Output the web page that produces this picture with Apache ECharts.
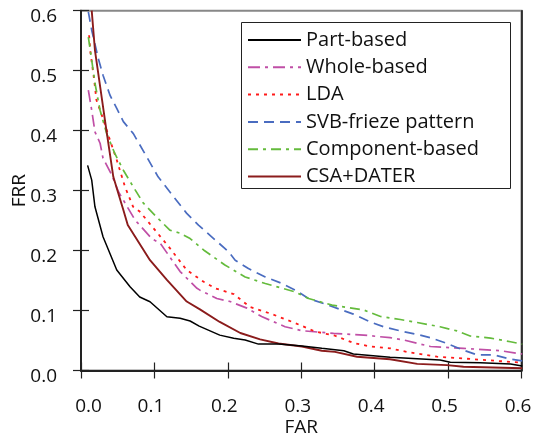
<!DOCTYPE html>
<html>
<head>
<meta charset="utf-8">
<script src="https://cdn.jsdelivr.net/npm/echarts@6/dist/echarts.min.js"></script>
<style>html,body{margin:0;padding:0;background:#fff}#c{width:534px;height:439px}</style>
</head>
<body>
<div id="c"></div>
<script>
var seriesNames = ['Part-based','Whole-based','LDA','SVB-frieze pattern','Component-based','CSA+DATER'];
var xTicks = [0.0,0.1,0.2,0.3,0.4,0.5,0.6];
var yTicks = [0.0,0.1,0.2,0.3,0.4,0.5,0.6];

var partBased = [[0.009,0.342],[0.0146,0.3175],[0.019,0.273],[0.030,0.223],[0.0487,0.1675],[0.0668,0.1397],[0.080,0.1225],[0.094,0.1147],[0.117,0.0897],[0.135,0.087],[0.1486,0.0825],[0.161,0.074],[0.189,0.059],[0.208,0.0537],[0.2236,0.0508],[0.2417,0.044],[0.269,0.044],[0.301,0.041],[0.328,0.037],[0.358,0.033],[0.371,0.0275],[0.421,0.022],[0.489,0.0175],[0.503,0.0137],[0.544,0.013],[0.585,0.0108],[0.601,0.0075]];
var wholeBased = [[0.010,0.4675],[0.0146,0.434],[0.019,0.398],[0.026,0.379],[0.030,0.354],[0.042,0.326],[0.051,0.298],[0.0736,0.251],[0.0964,0.220],[0.108,0.212],[0.135,0.165],[0.158,0.137],[0.162,0.134],[0.185,0.120],[0.203,0.115],[0.226,0.104],[0.246,0.090],[0.278,0.073],[0.301,0.0663],[0.344,0.062],[0.385,0.059],[0.421,0.0547],[0.439,0.051],[0.476,0.040],[0.521,0.037],[0.571,0.033],[0.601,0.0275]];
var lda = [[0.011,0.559],[0.013,0.529],[0.018,0.484],[0.021,0.451],[0.030,0.420],[0.0395,0.384],[0.0487,0.351],[0.060,0.306],[0.071,0.273],[0.080,0.265],[0.103,0.231],[0.121,0.204],[0.144,0.1675],[0.167,0.148],[0.183,0.137],[0.208,0.1275],[0.230,0.106],[0.258,0.095],[0.292,0.079],[0.319,0.065],[0.346,0.058],[0.371,0.046],[0.394,0.040],[0.421,0.037],[0.444,0.031],[0.485,0.023],[0.521,0.020],[0.567,0.016],[0.601,0.013]];
var svbFrieze = [[0.010,0.598],[0.0146,0.5675],[0.0236,0.520],[0.030,0.4925],[0.0395,0.459],[0.0487,0.437],[0.0577,0.415],[0.0713,0.395],[0.0896,0.356],[0.105,0.323],[0.126,0.290],[0.144,0.262],[0.160,0.2425],[0.178,0.223],[0.201,0.198],[0.210,0.184],[0.228,0.170],[0.251,0.156],[0.274,0.145],[0.292,0.134],[0.310,0.120],[0.337,0.109],[0.371,0.094],[0.394,0.081],[0.412,0.073],[0.435,0.066],[0.462,0.059],[0.476,0.0547],[0.4986,0.045],[0.521,0.034],[0.5395,0.026],[0.562,0.026],[0.585,0.019],[0.601,0.016]];
var componentBased = [[0.010,0.556],[0.0146,0.5175],[0.019,0.479],[0.026,0.434],[0.035,0.395],[0.046,0.362],[0.0577,0.334],[0.0713,0.306],[0.085,0.279],[0.103,0.256],[0.121,0.234],[0.135,0.229],[0.1486,0.220],[0.167,0.201],[0.196,0.176],[0.2236,0.156],[0.251,0.145],[0.292,0.131],[0.310,0.120],[0.342,0.109],[0.385,0.101],[0.408,0.090],[0.435,0.085],[0.458,0.080],[0.489,0.073],[0.512,0.066],[0.530,0.0575],[0.558,0.054],[0.585,0.048],[0.601,0.044]];
var csaDater = [[0.0146,0.600],[0.019,0.534],[0.034,0.406],[0.044,0.323],[0.0577,0.2675],[0.0637,0.2425],[0.094,0.184],[0.117,0.151],[0.144,0.115],[0.162,0.102],[0.189,0.081],[0.217,0.0625],[0.244,0.052],[0.269,0.045],[0.301,0.040],[0.328,0.033],[0.346,0.031],[0.376,0.023],[0.421,0.0187],[0.458,0.011],[0.4986,0.009],[0.521,0.0063],[0.601,0.0037]];

var seriesData = [partBased, wholeBased, lda, svbFrieze, componentBased, csaDater];
var colors = ['#000000','#c04fa6','#ff1a1a','#4a6cc0','#64bb3c','#8b1c1c'];
var dashes = ['solid',[12,5,3,5],[3,5],[10,6],[10,5,3,5],'solid'];
var widths = [1.5,1.7,1.8,1.7,1.7,1.9];

var FONT = 'Open Sans';
var chart = echarts.init(document.getElementById('c'), null, {renderer:'canvas'});

var series = seriesNames.map(function(n,i){
  return {
    name:n, type:'line', data:seriesData[i], showSymbol:false, symbol:'none',
    xAxisIndex:0, yAxisIndex:0, clip:true,
    lineStyle:{color:colors[i], width:widths[i], type:dashes[i]},
    itemStyle:{color:colors[i]},
    z: i===0 ? 3 : 2
  };
});

var fmt = function(v){ return Number(v).toFixed(1); };

chart.setOption({
  animation:false,
  backgroundColor:'#fff',
  grid:{left:81,right:12.5,top:10.7,bottom:68.5,show:true,borderColor:'#888',borderWidth:2,
        backgroundColor:'transparent',containLabel:false,outerBoundsMode:'none'},
  graphic:[
    {type:'rect', left:241, top:22, z:10, silent:true,
     shape:{width:269, height:166},
     style:{fill:'#fff', stroke:'#222', lineWidth:1}}
  ],
  legend:{
    data:seriesNames, orient:'vertical', left:241, top:22, z:20,
    itemWidth:53, itemHeight:14, itemGap:7.3,
    padding:[8,4,3,6],
    borderWidth:0, backgroundColor:'transparent',
    itemStyle:{opacity:0},
    textStyle:{fontFamily:FONT,fontSize:20,color:'#111',lineHeight:20}
  },
  xAxis:[
    {type:'value',min:0,max:0.6,interval:0.1,position:'bottom',
     name:'FAR',nameLocation:'middle',nameGap:48,nameMoveOverlap:false,
     nameTextStyle:{fontFamily:FONT,fontSize:19,color:'#111'},
     axisLine:{show:true,lineStyle:{color:'#222',width:2}},
     axisTick:{show:true,inside:false,length:8,lineStyle:{color:'#222',width:1.2}},
     splitLine:{show:false},
     axisLabel:{fontFamily:FONT,fontSize:19,color:'#111',margin:27,
       formatter:function(v){ return v===0 ? '{a|'+fmt(v)+'}' : '{b|'+fmt(v)+'}'; },
       rich:{a:{fontFamily:FONT,fontSize:19,color:'#111',padding:[0,0,0,15]},
             b:{fontFamily:FONT,fontSize:19,color:'#111',padding:[0,7,0,0]}}}
    },
    {type:'value',min:0,max:0.6,interval:0.1,position:'bottom',
     axisLine:{show:false},axisLabel:{show:false},splitLine:{show:false},
     axisTick:{show:true,inside:true,length:8,lineStyle:{color:'#222',width:1.2}}
    }
  ],
  yAxis:[
    {type:'value',min:0,max:0.6,interval:0.1,position:'left',
     name:'FRR',nameLocation:'middle',nameGap:52,nameMoveOverlap:false,
     nameTextStyle:{fontFamily:FONT,fontSize:19,color:'#111'},
     axisLine:{show:true,lineStyle:{color:'#222',width:2}},
     axisTick:{show:true,inside:false,length:8,lineStyle:{color:'#222',width:1.2}},
     splitLine:{show:false},
     axisLabel:{fontFamily:FONT,fontSize:19,color:'#111',margin:24,
       formatter:function(v){ return '{b|'+fmt(v)+'}'; },
       rich:{b:{fontFamily:FONT,fontSize:19,color:'#111',padding:[12,0,0,0]}}}
    },
    {type:'value',min:0,max:0.6,interval:0.1,position:'left',
     axisLine:{show:false},axisLabel:{show:false},splitLine:{show:false},
     axisTick:{show:true,inside:true,length:8,lineStyle:{color:'#222',width:1.2}}
    },
    {type:'value',min:0,max:0.6,interval:0.1,position:'right',
     axisLine:{show:true,lineStyle:{color:'#111',width:1.5}},
     axisLabel:{show:false},splitLine:{show:false},axisTick:{show:false}
    }
  ],
  series:series
});
</script>
</body>
</html>
